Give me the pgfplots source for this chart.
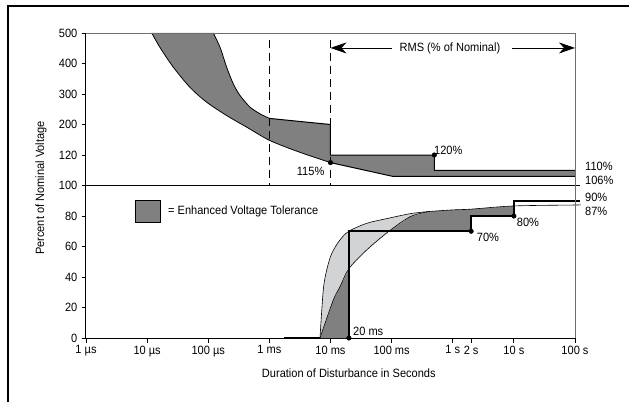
\documentclass[border=0pt]{standalone}
\usepackage{fontspec}
\setmainfont{Liberation Sans}[FakeStretch=0.92]
\usepackage{pgfplots}
\pgfplotsset{compat=1.18}
\usetikzlibrary{arrows.meta}
\definecolor{enh}{RGB}{128,128,128}
\definecolor{lite}{RGB}{210,211,213}
\definecolor{boxgray}{RGB}{110,110,110}
\definecolor{baseline}{RGB}{175,175,175}

\begin{document}
\fontsize{12}{14}\selectfont
\begin{tikzpicture}[x=1pt,y=1pt]
\useasboundingbox (-86,-64) rectangle (543,338);
% frame round the figure
\draw[line width=1.2pt] (-78,-64) -- (-78,332) -- (543,332);

\begin{axis}[
  at={(0,0)}, anchor=south west,
  scale only axis, width=489pt, height=305pt,
  xmode=log, xmin=1e-6, xmax=100,
  ymin=0, ymax=500,
  % 0-100 linear, then 100,120,200,300,400,500 equally spaced
  y coord trafo/.code={\pgfmathparse{min(#1,100)/20+(min(max(#1,100),120)-100)/20+(min(max(#1,120),200)-120)/80+(max(#1,200)-200)/100}},
  axis x line*=bottom, axis y line*=left,
  axis line style={-, black, line width=1pt},
  tick align=outside, major tick length=4.5pt,
  tick style={black, line width=0.8pt},
  xtick={1e-6,1e-5,1e-4,1e-3,1e-2,1e-1,1,2,10,100},
  xticklabels={1 µs,10 µs,100 µs,1 ms,10 ms,100 ms,1 s,2 s,10 s,100 s},
  xminorticks=false,
  ytick={0,20,40,60,80,100,120,200,300,400,500},
  yticklabels={0,20,40,60,80,100,120,200,300,400,500},
  ticklabel style={font=\fontsize{12}{14}\selectfont},
  xticklabel style={yshift=1pt},
  clip=false,
]
% ---- upper panel: enhanced region
\addplot[draw=none, fill=enh] coordinates {
  (1.21e-4,500) (1.56e-4,453) (2.0e-4,388) (2.57e-4,333) (3.31e-4,295)
  (4.82e-4,257) (7.03e-4,235) (1e-3,220) (1e-2,200) (1e-2,120)
  (0.5,120) (0.5,110) (100,110) (100,106) (0.104,106) (1e-2,115)
  (3.17e-3,127) (1.02e-3,158) (4.26e-4,193) (2.0e-4,229.5) (9.44e-5,273)
  (5.02e-5,322) (2.68e-5,388) (1.62e-5,453) (1.19e-5,500)} -- cycle;
\addplot[black, line width=0.8pt, smooth, tension=0.5] coordinates {
  (1.21e-4,500) (1.56e-4,453) (2.0e-4,388) (2.57e-4,333) (3.31e-4,295)
  (4.82e-4,257) (7.03e-4,235) (1e-3,220)};
\addplot[black, line width=1pt] coordinates {
  (1e-3,220) (1e-2,200) (1e-2,120) (0.5,120) (0.5,110) (100,110)};
\addplot[black, line width=0.8pt, smooth, tension=0.5] coordinates {
  (1.19e-5,500) (1.62e-5,453) (2.68e-5,388) (5.02e-5,322) (9.44e-5,273)
  (2.0e-4,229.5) (4.26e-4,193) (1.02e-3,158) (3.17e-3,127) (1e-2,115)};
\addplot[black, line width=1pt] coordinates {(1e-2,115) (0.104,106) (100,106)};

% dashed markers at 1 ms and 10 ms
\addplot[black, line width=1pt, dash pattern=on 8pt off 5pt] coordinates {(1e-3,478) (1e-3,100)};
\addplot[black, line width=1pt, dash pattern=on 8pt off 5pt] coordinates {(1e-2,478) (1e-2,100)};

% RMS arrow
\draw[-{Stealth[length=16pt,width=11pt,inset=5pt]}, line width=0.8pt]
  (axis cs:0.1015,451) -- (axis cs:1e-2,451);
\draw[-{Stealth[length=16pt,width=11pt,inset=5pt]}, line width=0.8pt]
  (axis cs:9.22,451) -- (axis cs:100,451);
\node at (axis cs:0.9,451) {RMS (\% of Nominal)};

% ---- lower panel
\addplot[draw=none, fill=enh] coordinates {
  (6.73e-3,0) (1.11e-2,24.9) (1.43e-2,33.6) (0.02,45.5) (0.02,0)} -- cycle;
\addplot[draw=none, fill=enh] coordinates {
  (0.0905,70) (0.2,79.5) (0.4,82.9) (1,84) (2,84.5) (10,86.6)
  (10,80) (2,80) (2,70)} -- cycle;
\addplot[draw=none, fill=lite] coordinates {
  (6.73e-3,0) (7.62e-3,31.5) (8.67e-3,44.6) (1.05e-2,55.5) (1.43e-2,64.3)
  (0.02,70) (3.91e-2,75.2) (8.83e-2,78.5) (0.2,81.5) (0.4,82.9)
  (0.2,79.5) (8.83e-2,69.7) (3.91e-2,57.7) (0.02,45.5) (1.43e-2,33.6)
  (1.11e-2,24.9)} -- cycle;
\addplot[black, line width=0.6pt, smooth, tension=0.5] coordinates {
  (6.73e-3,0) (7.62e-3,31.5) (8.67e-3,44.6) (1.05e-2,55.5) (1.43e-2,64.3)
  (0.02,70) (3.91e-2,75.2) (8.83e-2,78.5) (0.2,81.5) (0.4,82.9)
  (1,84) (2,84.5) (10,86.6) (100,87.2) (121,87.3)};
\addplot[black, line width=0.6pt, smooth, tension=0.5] coordinates {
  (6.73e-3,0) (1.11e-2,24.9) (1.43e-2,33.6) (0.02,45.5) (3.91e-2,57.7)
  (8.83e-2,69.7) (0.2,79.5) (0.4,82.9)};
\addplot[baseline, line width=1.5pt] coordinates {(1.75e-3,0) (6.73e-3,0)};

% new tolerance steps
\addplot[black, line width=1.6pt] coordinates {
  (0.02,0) (0.02,70) (2,70) (2,80) (10,80) (10,90) (121,90)};
\addplot[black, line width=0.9pt] coordinates {(1e-6,100) (121,100)};
\addplot[only marks, mark=*, mark size=2.3pt, black] coordinates {
  (0.02,0) (2,70) (10,80) (0.01,115) (0.5,120)};

% top and right frame of the plot area
\draw[boxgray, line width=0.8pt] (rel axis cs:0,1) -- (rel axis cs:1,1) -- (rel axis cs:1,0);
\end{axis}

% legend
\draw[fill=enh, line width=1pt] (49,115.3) rectangle (74,138);
\node[anchor=west, inner sep=0pt] at (82,127) {= Enhanced Voltage Tolerance};

% value labels
\node[anchor=west, inner sep=0pt] at (210.7,167) {115\%};
\node[anchor=west, inner sep=0pt] at (348,187.3) {120\%};
\node[anchor=west, inner sep=0pt] at (499,172) {110\%};
\node[anchor=west, inner sep=0pt] at (499,158) {106\%};
\node[anchor=west, inner sep=0pt] at (499,141) {90\%};
\node[anchor=west, inner sep=0pt] at (499,127) {87\%};
\node[anchor=west, inner sep=0pt] at (430.7,116) {80\%};
\node[anchor=west, inner sep=0pt] at (390.7,101) {70\%};
\node[anchor=west, inner sep=0pt] at (267,7) {20 ms};

% axis titles
\node at (262.8,-35) {Duration of Disturbance in Seconds};
\node[rotate=90] at (-45,150) {Percent of Nominal Voltage};
\end{tikzpicture}
\end{document}
